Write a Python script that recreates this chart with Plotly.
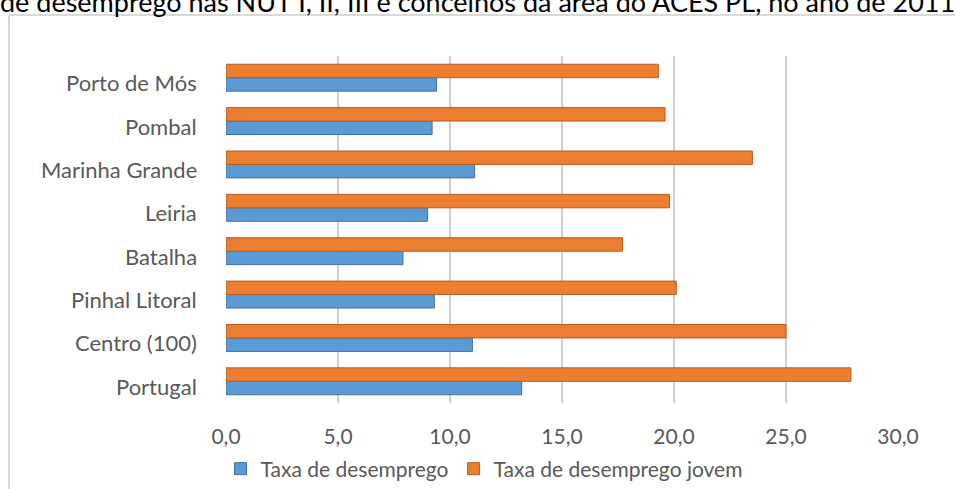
import plotly.graph_objects as go

categories = ["Portugal", "Centro (100)", "Pinhal Litoral", "Batalha",
              "Leiria", "Marinha Grande", "Pombal", "Porto de Mós"]
taxa_desemprego = [13.2, 11.0, 9.3, 7.9, 9.0, 11.1, 9.2, 9.4]
taxa_desemprego_jovem = [27.9, 25.0, 20.1, 17.7, 19.8, 23.5, 19.6, 19.3]
x_tick_vals = [0, 5, 10, 15, 20, 25, 30]
x_tick_labels = ["0,0", "5,0", "10,0", "15,0", "20,0", "25,0", "30,0"]
series_names = ["Taxa de desemprego", "Taxa de desemprego jovem"]
title_text = "de desemprego nas NUT I, II, III e concelhos da área do ACES PL, no ano de 2011"

W, H = 955, 489
L, R, T, B = 226, 57, 56, 86

FONT = "Lato"
GREY = "#595959"

fig = go.Figure()
fig.add_trace(go.Bar(
    y=categories, x=taxa_desemprego, orientation="h", name=series_names[0],
    marker=dict(color="#5b9bd5", line=dict(color="#41719c", width=1)),
))
fig.add_trace(go.Bar(
    y=categories, x=taxa_desemprego_jovem, orientation="h", name=series_names[1],
    marker=dict(color="#ed7d31", line=dict(color="#b35e23", width=1)),
))

pw = W - L - R
ph = H - T - B
def px_x(p):
    return (p - L) / pw
def px_y(p):
    return (H - B - p) / ph

annotations = [dict(text=title_text, xref="paper", yref="paper",
                    x=px_x(477), y=px_y(2), xanchor="center", yanchor="middle",
                    showarrow=False,
                    font=dict(size=27, color="#000000", family=FONT, weight="normal"))]
for c in categories:
    annotations.append(dict(text=c, xref="paper", yref="y", x=px_x(199), y=c,
                            xanchor="right", yanchor="middle", yshift=-5,
                            showarrow=False, font=dict(size=22, color=GREY, family=FONT)))

fig.update_layout(
    width=W, height=H,
    margin=dict(l=L, r=R, t=T, b=B, pad=0, autoexpand=False),
    barmode="group", bargap=0.38, bargroupgap=0,
    plot_bgcolor="white", paper_bgcolor="white",
    font=dict(family=FONT, color=GREY, size=20),
    xaxis=dict(range=[0, 30], tickvals=x_tick_vals, ticktext=x_tick_labels,
               showgrid=True, gridcolor="#cfcfcf", gridwidth=2,
               zeroline=False, showline=False, ticks="", tickangle=0,
               ticklabelstandoff=19, tickfont=dict(size=21, color=GREY)),
    yaxis=dict(showgrid=False, zeroline=False, showline=False, ticks="",
               showticklabels=False),
    legend=dict(orientation="h", xref="container", yref="container",
                x=(484 / W), xanchor="center", y=(H - 469) / H, yanchor="middle",
                font=dict(size=21, color=GREY), traceorder="normal"),
    showlegend=True,
    annotations=annotations,
    shapes=[
        dict(type="line", xref="paper", yref="paper", x0=px_x(9), x1=px_x(9),
             y0=px_y(15), y1=px_y(495), line=dict(color="#d9d9d9", width=2)),
        dict(type="line", xref="paper", yref="paper", x0=px_x(9), x1=px_x(960),
             y0=px_y(15), y1=px_y(15), line=dict(color="#d9d9d9", width=2)),
    ],
)

fig.write_html("out.html")
